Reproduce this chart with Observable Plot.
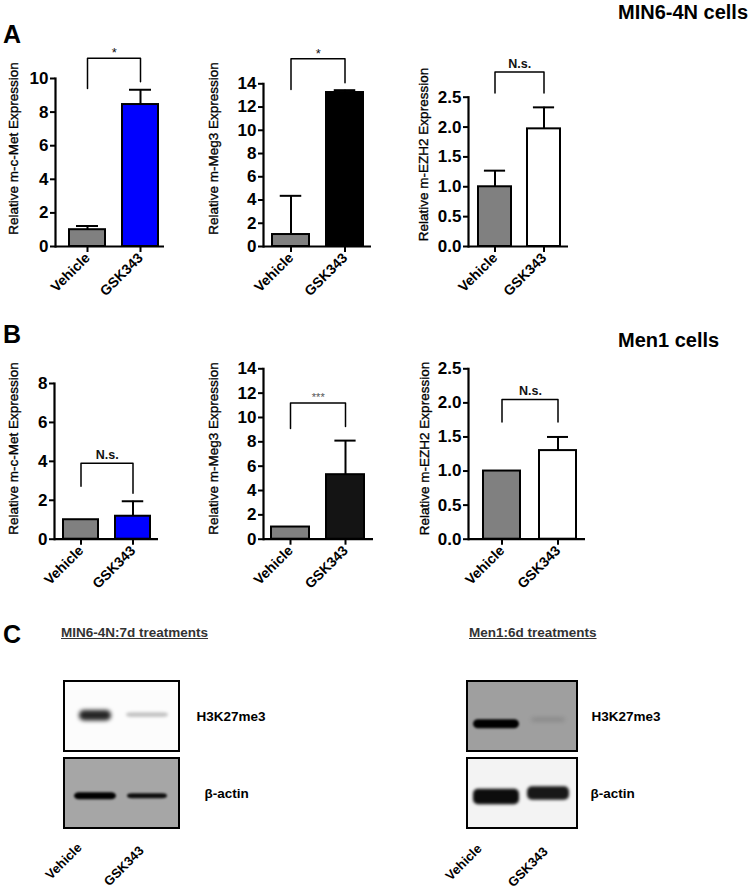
<!DOCTYPE html>
<html><head><meta charset="utf-8">
<script src="https://cdn.jsdelivr.net/npm/d3@7"></script>
<script src="https://cdn.jsdelivr.net/npm/@observablehq/plot@0.6"></script>
<style>
body{margin:0;background:#fff;font-family:"Liberation Sans",Arial,Helvetica,sans-serif;}
#fig{position:relative;width:750px;height:892px;overflow:hidden;background:#fff;}
.abs{position:absolute;white-space:nowrap;line-height:1;}
.letter{font-weight:bold;font-size:25px;color:#000;}
.cells{font-weight:bold;font-size:20px;color:#000;}
.btitle{font-weight:bold;font-size:13.5px;color:#333;text-decoration:underline;}
svg.plot{position:absolute;}
</style></head><body><div id="fig"></div>
<script>
// ---------- data ----------
const groups = ["Vehicle", "GSK343"];
const genes = ["m-c-Met", "m-Meg3", "m-EZH2"];
const cellLines = ["MIN6-4N cells", "Men1 cells"];
const min6Means  = [[1.00, 8.45], [1.03, 13.25], [1.00, 1.97]];
const min6Errors = [[0.22, 0.88], [3.33, 0.20], [0.27, 0.36]];
const men1Means  = [[1.00, 1.18], [1.00, 5.30], [1.00, 1.30]];
const men1Errors = [[0, 0.77], [0, 2.80], [0, 0.20]];
const min6Sig = ["*", "*", "N.s."];
const men1Sig = ["N.s.", "***", "N.s."];
// significance brackets: [left leg bottom, bracket top, right leg bottom]
const min6Brackets = [[9.4, 11.2, 9.8], [13.5, 16.15, 14.1], [2.57, 2.92, 2.57]];
const men1Brackets = [[2.72, 3.9, 2.36], [9.1, 11.2, 9.26], [1.72, 2.05, 1.72]];
const min6Ticks = [[0, 2, 4, 6, 8, 10], [0, 2, 4, 6, 8, 10, 12, 14], [0, 0.5, 1, 1.5, 2, 2.5]];
const men1Ticks = [[0, 2, 4, 6, 8], [0, 2, 4, 6, 8, 10, 12, 14], [0, 0.5, 1, 1.5, 2, 2.5]];
const panelLetters = ["A", "B", "C"];
const blotTitles = ["MIN6-4N:7d treatments", "Men1:6d treatments"];
const blotLanes = ["Vehicle", "GSK343"];
const blotProteins = ["H3K27me3", "β-actin"];
const min6BandIntensity = [[0.85, 0.22], [1.0, 0.92]];
const men1BandIntensity = [[1.0, 0.14], [0.95, 0.9]];

// ---------- styles / layout ----------
const FONT = "'Liberation Sans', Arial, Helvetica, sans-serif";
const vehicleFill = "#808080";
const gskFills = [["#0000ff", "#000000", "#ffffff"], ["#0000ff", "#141414", "#ffffff"]];
const tickFormats = [d3.format("d"), d3.format("d"), d3.format(".1f")];
const layouts = [
  [
    {left: 0,   top: 0, width: 175, height: 310, ml: 55, mr: 11, mt: 78,   mb: 64, pi: 0.327, po: 0.182, align: 0.667, tx: 13, ty: 148},
    {left: 195, top: 0, width: 190, height: 310, ml: 68, mr: 14, mt: 83.3, mb: 64, pi: 0.312, po: 0.147, align: 0.52,  tx: 18, ty: 148},
    {left: 400, top: 0, width: 180, height: 310, ml: 68, mr: 12, mt: 96.7, mb: 64, pi: 0.317, po: 0.168, align: 0.544, tx: 23, ty: 154}
  ],
  [
    {left: 0,   top: 300, width: 175, height: 310, ml: 54, mr: 17, mt: 83,   mb: 71.3, pi: 0.324, po: 0.152, align: 0.547, tx: 13, ty: 148},
    {left: 195, top: 300, width: 190, height: 310, ml: 68, mr: 12, mt: 68.3, mb: 71.3, pi: 0.301, po: 0.142, align: 0.484, tx: 18, ty: 148},
    {left: 400, top: 300, width: 190, height: 310, ml: 68, mr: 5,  mt: 68.3, mb: 71.3, pi: 0.333, po: 0.193, align: 0.614, tx: 24, ty: 148}
  ]
];
const sigStyle = {
  "*":    {fontSize: 13, fontWeight: "normal", fill: "#111", dy: -1},
  "***":  {fontSize: 11, fontWeight: "normal", fill: "#555", dy: -2},
  "N.s.": {fontSize: 12.5, fontWeight: "bold", fill: "#111", dy: -4}
};

const fig = document.getElementById("fig");

function place(el, left, top) {
  el.style.position = "absolute";
  el.style.left = left + "px";
  el.style.top = top + "px";
  fig.appendChild(el);
}

function barChart(L, means, errors, ticks, fmt, fills, sig, br, gene) {
  const data = groups.map((g, i) => ({group: g, mean: means[i], err: errors[i], i}));
  const withErr = data.filter(d => d.err > 0);
  const yTop = ticks[ticks.length - 1];
  const band = d3.scaleBand().domain(groups).range([L.ml, L.width - L.mr])
    .paddingInner(L.pi).paddingOuter(L.po).align(L.align);
  const capInset = Math.max(0, (band.bandwidth() - 22) / 2);
  const bracket = [
    {group: groups[0], v: br[0]}, {group: groups[0], v: br[1]},
    {group: groups[1], v: br[1]}, {group: groups[1], v: br[2]}
  ];
  const ss = sigStyle[sig];
  const svg = Plot.plot({
    width: L.width, height: L.height,
    marginLeft: L.ml, marginRight: L.mr, marginTop: L.mt, marginBottom: L.mb,
    style: {fontFamily: FONT, background: "none", color: "#000", overflow: "visible"},
    x: {domain: groups, paddingInner: L.pi, paddingOuter: L.po, align: L.align},
    y: {domain: [0, yTop]},
    marks: [
      Plot.barY(data, {x: "group", y: "mean", fill: d => d.i === 0 ? vehicleFill : fills, stroke: "#000", strokeWidth: 2}),
      Plot.ruleX(withErr, {x: "group", y1: "mean", y2: d => d.mean + d.err, stroke: "#000", strokeWidth: 2}),
      Plot.tickY(withErr, {x: "group", y: d => d.mean + d.err, stroke: "#000", strokeWidth: 2, insetLeft: capInset, insetRight: capInset}),
      Plot.ruleY([0], {stroke: "#000", strokeWidth: 2.2}),
      Plot.frame({anchor: "left", stroke: "#000", strokeWidth: 2.2}),
      Plot.axisY({ticks, tickFormat: fmt, tickSize: 5, tickPadding: 2, fontSize: 17, fontWeight: "bold", strokeWidth: 2, label: null}),
      Plot.axisX({tickSize: 6, tickPadding: 3, tickRotate: -45, fontSize: 14, fontWeight: "bold", strokeWidth: 2, label: null}),
      Plot.line(bracket, {x: "group", y: "v", stroke: "#000", strokeWidth: 1.5}),
      Plot.text([sig], {x: () => groups[0], y: () => br[1], dx: band.step() / 2, dy: ss.dy, lineAnchor: "bottom",
        fontSize: ss.fontSize, fontWeight: ss.fontWeight, fill: ss.fill}),
      Plot.text(["Relative " + gene + " Expression"], {frameAnchor: "top-left", dx: L.tx - L.ml, dy: L.ty - L.mt,
        rotate: -90, textAnchor: "middle", lineAnchor: "middle", fontSize: 13.5, fill: "#000",
        stroke: "#000", strokeWidth: 0.35})
    ]
  });
  svg.classList.add("plot");
  place(svg, L.left, L.top);
}

genes.forEach((g, j) => barChart(layouts[0][j], min6Means[j], min6Errors[j], min6Ticks[j], tickFormats[j], gskFills[0][j], min6Sig[j], min6Brackets[j], g));
genes.forEach((g, j) => barChart(layouts[1][j], men1Means[j], men1Errors[j], men1Ticks[j], tickFormats[j], gskFills[1][j], men1Sig[j], men1Brackets[j], g));

// ---------- blots ----------
const blotLayouts = [
  {left: 0, top: 660, width: 300, height: 232, ml: 64, mr: 121, mt: 20, mb: 63,
   pi: 0.19, po: 0.2, align: 0.48,
   bg: ["#fcfcfc", "#a6a6a6"],
   center: [[0.51, 0.52], [0.46, 0.46]],
   thick: [[0.15, 0.07], [0.1, 0.07]],
   inset: [[5, 0], [0, 1]],
   blur: [[2, 1.5], [1.2, 1.2]],
   labelDx: [17, 25],
   laneDx: [-13, -3], laneDy: [20, 23]},
  {left: 380, top: 660, width: 370, height: 232, ml: 87, mr: 173, mt: 20, mb: 63,
   pi: 0.107, po: 0.1, align: 0.48,
   bg: ["#9f9f9f", "#f3f3f3"],
   center: [[0.39, 0.45], [0.45, 0.5]],
   thick: [[0.13, 0.06], [0.22, 0.19]],
   inset: [[0, 6], [0, 2]],
   blur: [[1.3, 2], [1.5, 1.5]],
   labelDx: [14, 13],
   laneDx: [-14, 0], laneDy: [21, 24]}
];

function blot(L, intensity) {
  const boxes = blotProteins.map((p, i) => ({protein: p, i}));
  const bands = [];
  blotProteins.forEach((p, i) => blotLanes.forEach((l, j) => bands.push({protein: p, lane: l, v: intensity[i][j], i, j})));
  const marks = [
    Plot.rect(boxes, {fy: "protein", fill: d => L.bg[d.i], stroke: "none"})
  ];
  bands.forEach(b => {
    const c = L.center[b.i][b.j], h = L.thick[b.i][b.j] / 2;
    marks.push(Plot.barY([b], {x: "lane", y1: () => c - h, y2: () => c + h, fy: "protein",
      fill: "#000", fillOpacity: d => d.v, rx: 5, insetLeft: L.inset[b.i][b.j], insetRight: L.inset[b.i][b.j],
      imageFilter: `blur(${L.blur[b.i][b.j]}px)`}));
  });
  marks.push(Plot.rect(boxes, {fy: "protein", fill: "none", stroke: "#000", strokeWidth: 2}));
  blotProteins.forEach((p, i) => marks.push(Plot.text([p], {fy: () => p, frameAnchor: "right", dx: L.labelDx[i],
    textAnchor: "start", fontSize: 13.5, fontWeight: "bold", fill: "#000"})));
  blotLanes.forEach((l, j) => marks.push(Plot.text([l], {x: d => d, fy: () => blotProteins[1], frameAnchor: "bottom",
    dx: L.laneDx[j], dy: L.laneDy[j], rotate: -45, textAnchor: "end", lineAnchor: "bottom",
    fontSize: 13, fontWeight: "bold", fill: "#000"})));
  const svg = Plot.plot({
    width: L.width, height: L.height,
    marginLeft: L.ml, marginRight: L.mr, marginTop: L.mt, marginBottom: L.mb,
    style: {fontFamily: FONT, background: "none", color: "#000", overflow: "visible"},
    x: {domain: blotLanes, paddingInner: L.pi, paddingOuter: L.po, align: L.align, axis: null},
    y: {domain: [0, 1], axis: null},
    fy: {domain: blotProteins, paddingInner: 0.0897, paddingOuter: 0, axis: null, label: null},
    marks
  });
  svg.classList.add("plot");
  place(svg, L.left, L.top);
}
blot(blotLayouts[0], min6BandIntensity);
blot(blotLayouts[1], men1BandIntensity);

// ---------- text ----------
function label(text, cls, left, top) {
  const d = document.createElement("div");
  d.className = "abs " + cls;
  d.textContent = text;
  place(d, left, top);
}
label(panelLetters[0], "letter", 3, 21.8);
label(panelLetters[1], "letter", 3, 321.8);
label(panelLetters[2], "letter", 3, 621.8);
label(cellLines[0], "cells", 618, 2.4);
label(cellLines[1], "cells", 618, 330.4);
label(blotTitles[0], "btitle", 61, 626.2);
label(blotTitles[1], "btitle", 469, 626.2);
</script></body></html>
